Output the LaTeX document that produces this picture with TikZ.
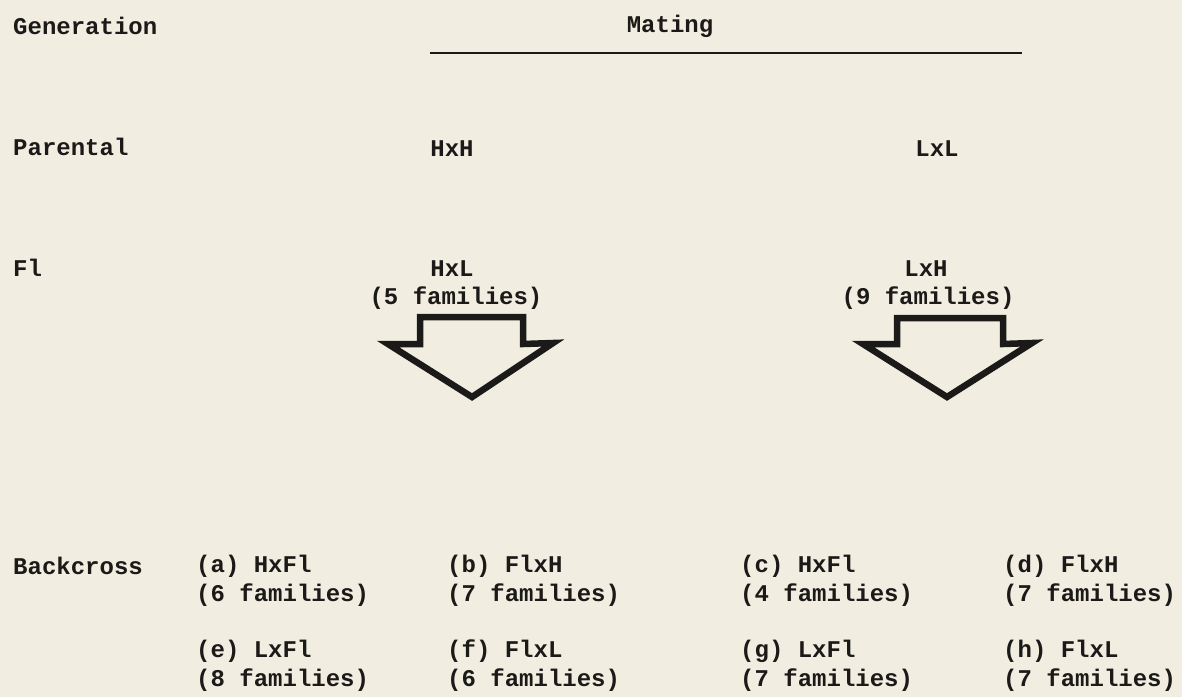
\documentclass[tikz,border=0pt]{standalone}
\usepackage{fontspec}
\setmonofont{Liberation Mono}
\definecolor{paper}{RGB}{241,238,225}
\definecolor{ink}{RGB}{28,26,24}
\begin{document}
\begin{tikzpicture}[x=1pt,y=-1pt,
  lbl/.style={font=\fontsize{24}{26}\selectfont\ttfamily\bfseries, text=ink, inner sep=0pt, anchor=west},
  ctr/.style={font=\fontsize{24}{26}\selectfont\ttfamily\bfseries, text=ink, inner sep=0pt, anchor=center},
  blockarrow/.style={draw=ink, line width=6.5pt, miter limit=10, fill=paper}]
\fill[paper] (0,0) rectangle (1182,697);
\useasboundingbox (0,0) rectangle (1182,697);
% row labels
\node[lbl] (gen) at (13,26) {Generation};
\node[ctr] (mating) at (670,26) {Mating};
\coordinate (ml) at (430,53);
\coordinate (mr) at (1022,53);
\draw[ink, line width=1.5pt] (ml) -- (mr);
\node[lbl] (par) at (13,147) {Parental};
\node[ctr] (hxh) at (452,149) {HxH};
\node[ctr] (lxl) at (937,149) {LxL};
\node[lbl] (f1) at (13,268) {Fl};
\node[ctr] (hxl) at (452,269) {HxL};
\node[ctr] (hxlf) at (456,298) {(5 families)};
\node[ctr] (lxh) at (926,269) {LxH};
\node[ctr] (lxhf) at (928,298) {(9 families)};
% block arrows
\draw[blockarrow] (420,317) -- (523,317) -- (523,344) -- (553,343) -- (472,397) -- (388,344) -- (420,344) -- cycle;
\draw[blockarrow] (897,318) -- (1003,318) -- (1003,344) -- (1032,343) -- (947,397) -- (863,344) -- (897,344) -- cycle;
% backcross
\node[lbl] (bc) at (13,566) {Backcross};
\node[lbl] (a) at (196,566) {(a) HxFl};
\node[lbl] (af) at (196,595) {(6 families)};
\node[lbl] (b) at (447,566) {(b) FlxH};
\node[lbl] (bf) at (447,595) {(7 families)};
\node[lbl] (c) at (740,566) {(c) HxFl};
\node[lbl] (cf) at (740,595) {(4 families)};
\node[lbl] (d) at (1003,566) {(d) FlxH};
\node[lbl] (df) at (1003,595) {(7 families)};
\node[lbl] (e) at (196,651) {(e) LxFl};
\node[lbl] (ef) at (196,680) {(8 families)};
\node[lbl] (f) at (447,651) {(f) FlxL};
\node[lbl] (ff) at (447,680) {(6 families)};
\node[lbl] (g) at (740,651) {(g) LxFl};
\node[lbl] (gf) at (740,680) {(7 families)};
\node[lbl] (h) at (1003,651) {(h) FlxL};
\node[lbl] (hf) at (1003,680) {(7 families)};
\end{tikzpicture}
\end{document}
